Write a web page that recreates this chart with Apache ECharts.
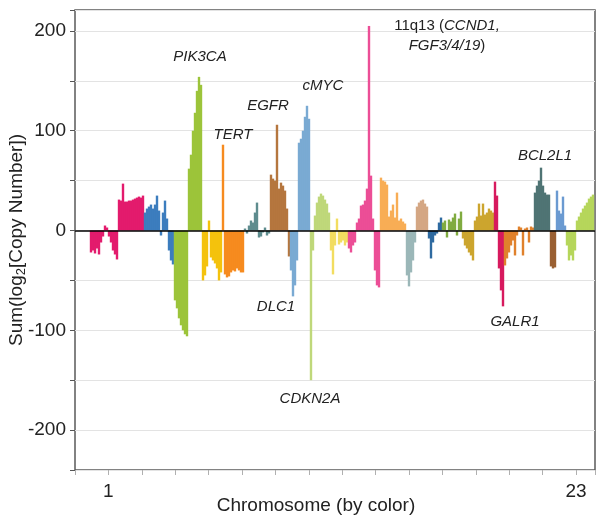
<!DOCTYPE html>
<html><head><meta charset="utf-8">
<script src="https://cdn.jsdelivr.net/npm/echarts@6/dist/echarts.min.js"></script>
<style>html,body{margin:0;padding:0;background:#fff}#c{width:600px;height:523px}</style>
</head><body><div id="c"></div>
<script>
// Chromosome names and colours
const chromosomes = ['1','2','3','4','5','6','7','8','9','10','11','12','13','14','15','16','17','18','19','20','21','22','23'];
const chrColors = ['#E31B6D','#3C7DBE','#9CC43A','#F4C20D','#F68B1F','#5E8C8E','#B5763E','#7AAAD3','#BFD87A','#F2DD60',
  '#EC4E96','#F8AD55','#9BB7B8','#D4A784','#2E6AA0','#80AB40','#CCA52E','#D71A5E','#E0812C','#4F7474','#9A6032','#6B9AD1','#B6D65B'];

// Sum(log2[copy number]) per genomic bin, chromosome by chromosome
const chr1  = [-22,-20,-23,-18,-24,-12,-6,5,3,-6,-12,-20,-24,-29, 31,30,47,29,29,30,30,31,32,33,34,33,35];
const chr2  = [18,22,24,26,22,26,35,20,-5,18,30,12,-20,-30,-34];
const chr3  = [-70,-78,-88,-95,-100,-104,-106, 62,76,100,118,140,154,146];
const chr4  = [-50,-45,-36,10,-27,-30,-33,-38,-50,-42];
const chr5  = [86,-44,-47,-46,-42,-40,-41,-38,-40,-42,-42];
const chr6  = [2,-3,5,10,8,18,28,-7,-6,-2,3,-5,-3];
const chr7  = [56,52,50,106,42,48,45,40,22,-26];
const chr8  = [-40,-66,-55,-30,88,92,100,114,125,112];
const chr9  = [-150,-20,15,28,34,37,35,31,27,18];
const chr10 = [-20,-44,-15,12,-14,-12,-10,-15,-12];
const chr11 = [-18,-22,-15,-12,8,12,25,26,30,42,205,55,12,-40,-55,-57];
const chr12 = [53,50,49,46,14,20,26,13,38,10,12,9,7];
const chr13 = [-45,-56,-42,-30,-12];
const chr14 = [24,28,30,31,27,24];
const chr15 = [-8,-28,-12,-5,-3,8,13];
const chr16 = [8,10,-7,11,9,13,17,-5,12,19];
const chr17 = [-8,-15,-18,-22,-25,-30,10,14,27,15,27,16,18,22,20,18];
const chr18 = [49,35,-38,-60,-76];
const chr19 = [-35,-28,-22,-15,-10,-25,-5,4,3,-25,2,3,-12,4,3];
const chr20 = [38,45,50,63,45,38,36,36];
const chr21 = [-36,-38,-37];
const chr22 = [40,20,17,34,5];
const chr23 = [-15,-30,-25,-30,-20,10,14,18,22,25,28,32,34,36];
const chrValues = [chr1,chr2,chr3,chr4,chr5,chr6,chr7,chr8,chr9,chr10,chr11,chr12,chr13,chr14,chr15,chr16,chr17,chr18,chr19,chr20,chr21,chr22,chr23];

// Axis ticks / labels
const yTickLabels = [-200,-100,0,100,200];
const xTickLabels = {1:'1', 15:'23'};   // by tick number

// Gene annotations: [bin, value, label]
const annotations = [
  [54.5, 174, '{i|PIK3CA}'],
  [71, 96, '{i|TERT}'],
  [88.5, 125, '{i|EGFR}'],
  [116, 145, '{i|cMYC}'],
  [178, 195, '11q13 ({i|CCND1,}\n{i|FGF3/4/19})'],
  [227, 75, '{i|BCL2L1}'],
  [92.5, -76, '{i|DLC1}'],
  [109.5, -169, '{i|CDKN2A}'],
  [212, -92, '{i|GALR1}']
];

const X_MIN = -8, X_MAX = 252, X_INTERVAL = 16.7;

const barData = [];
let idx = 0;
chrValues.forEach((arr, c) => {
  arr.forEach(v => {
    barData.push({ value: [idx, v], itemStyle: { color: chrColors[c] }, name: chromosomes[c] });
    idx++;
  });
});

const FONT = 'Liberation Sans, Arial, sans-serif';
const chart = echarts.init(document.getElementById('c'), null, { renderer: 'canvas' });
chart.setOption({
  animation: false,
  backgroundColor: '#fff',
  grid: { left: 75, right: 5, top: 10, bottom: 53, containLabel: false, outerBoundsMode: 'none',
    show: true, borderColor: '#5a5a5a', borderWidth: 1.5, backgroundColor: 'transparent' },
  xAxis: {
    type: 'value', min: X_MIN, max: X_MAX, interval: X_INTERVAL,
    name: 'Chromosome (by color)', nameLocation: 'middle', nameGap: 26, nameMoveOverlap: false,
    nameTextStyle: { fontFamily: FONT, fontSize: 19, color: '#222', padding: [0, 38, 0, 0] },
    axisLine: { show: false, onZero: false },
    axisTick: { show: true, length: 5, inside: false, lineStyle: { color: '#b0b0b0', width: 1 } },
    splitLine: { show: false },
    axisLabel: {
      margin: 12, fontFamily: FONT, fontSize: 19, color: '#222',
      showMinLabel: true, showMaxLabel: true, hideOverlap: false,
      formatter: v => { const k = Math.round((v - X_MIN) / X_INTERVAL); return Math.abs(v - (X_MIN + k * X_INTERVAL)) < 0.5 && xTickLabels[k] ? xTickLabels[k] : ''; }
    }
  },
  yAxis: {
    type: 'value', min: -240, max: 221, splitNumber: 9,
    name: 'Sum(log{s|2}[Copy Number])', nameLocation: 'middle', nameGap: 47, nameMoveOverlap: false,
    nameTextStyle: { fontFamily: FONT, fontSize: 19, color: '#222', lineHeight: 22,
      rich: { s: { fontFamily: FONT, fontSize: 13, verticalAlign: 'bottom', lineHeight: 14, color: '#222' } } },
    axisLine: { show: false, onZero: false },
    axisTick: { show: true, length: 5, inside: false, lineStyle: { color: '#555', width: 1 } },
    splitLine: { show: true, lineStyle: { color: '#e3e3e3', width: 1 } },
    axisLabel: { margin: 9, fontFamily: FONT, fontSize: 19, color: '#222',
      formatter: v => yTickLabels.indexOf(v) >= 0 ? String(v) : '' }
  },
  series: [
    {
      type: 'bar', data: barData, barWidth: 2.4, z: 2,
      markLine: { silent: true, symbol: 'none', animation: false, label: { show: false },
        lineStyle: { color: '#000', width: 1.5, type: 'solid' }, data: [{ yAxis: 0 }] }
    },
    {
      type: 'scatter', symbolSize: 0, z: 6, silent: true,
      data: annotations,
      label: { show: true, position: 'inside', formatter: p => p.data[2], fontFamily: FONT, fontSize: 15,
        color: '#222', opacity: 1, lineHeight: 20, align: 'center',
        rich: { i: { fontStyle: 'italic', fontFamily: FONT, fontSize: 15, color: '#222', lineHeight: 20 } } }
    }
  ]
});
</script></body></html>
